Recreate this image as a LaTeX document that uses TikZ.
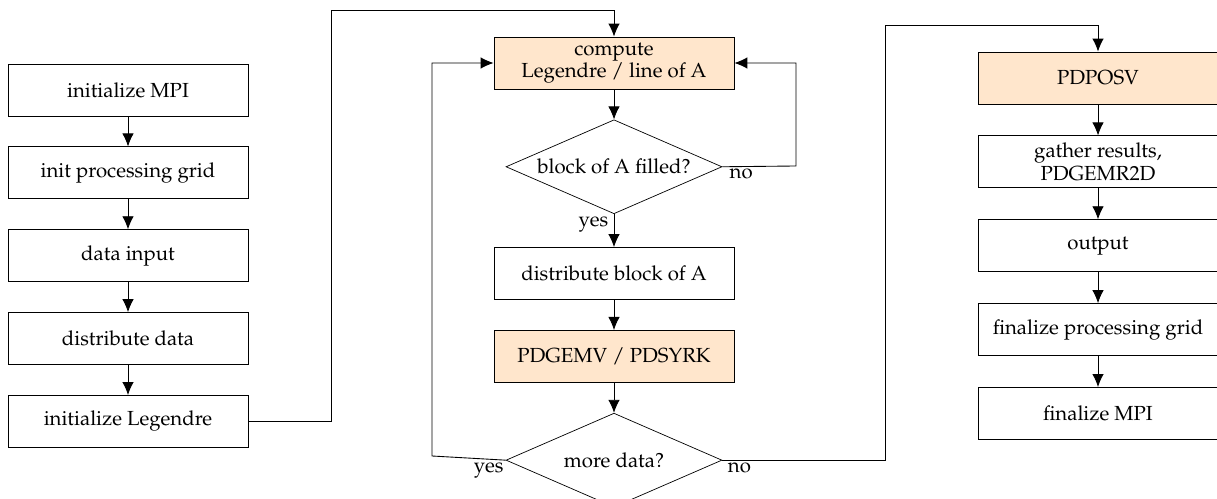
\documentclass[tikz,border=0pt]{standalone}
\usepackage[T1]{fontenc}
\usepackage{mathpazo}
\usetikzlibrary{positioning,shapes.geometric,arrows.meta}
\definecolor{calcfill}{HTML}{FFE6CC}

\begin{document}
\begin{tikzpicture}[
  x=0.02cm, y=-0.02cm,
  node distance=0.6cm,
  font=\fontsize{11.6}{12.8}\selectfont,
  box/.style={draw, line width=0.5pt, fill=white, minimum width=4.8cm,
              minimum height=1.04cm, align=center, inner sep=1pt},
  calc/.style={box, fill=calcfill},
  decision/.style={draw, diamond, aspect=2.3, inner sep=0pt,
                   minimum width=4.32cm, minimum height=1.88cm, align=center},
  lbl/.style={inner sep=1pt},
  arrow/.style={-{Latex[length=2.6mm, width=2.3mm]}, line width=0.5pt}
]
  \useasboundingbox (0,0) rectangle (1217,499);

  % setup column
  \node[box] (mpi) at (128,90) {initialize MPI};
  \node[box, below=of mpi]  (grid) {init processing grid};
  \node[box, below=of grid] (inp)  {data input};
  \node[box, below=of inp]  (dist) {distribute data};
  \node[box, below=of dist] (leg)  {initialize Legendre};

  % main loop
  \node[calc] (comp) at (614,63) {compute\\Legendre / line of A};
  \node[decision, below=of comp] (fill) {block of A filled?};
  \node[box, below=0.66cm of fill] (blk) {distribute block of A};
  \node[calc, below=of blk] (pdg) {PDGEMV / PDSYRK};
  \node[decision, below=of pdg] (more) {more data?};

  % solve and finish
  \node[calc] (posv) at (1098,78) {PDPOSV};
  \node[box, below=0.62cm of posv] (gath) {gather results,\\PDGEMR2D};
  \node[box, below=0.62cm of gath] (outp) {output};
  \node[box, below=0.62cm of outp] (fgrid) {finalize processing grid};
  \node[box, below=0.62cm of fgrid] (fmpi) {finalize MPI};

  % branch labels
  \node[lbl, anchor=north west] (nofill)  at ([xshift=3pt]fill.east)  {no};
  \node[lbl, anchor=north east] (yesfill) at ([xshift=-2pt]fill.south) {yes};
  \node[lbl, anchor=north east] (yesmore) at (more.west) {yes};
  \node[lbl, anchor=north west] (nomore)  at ([xshift=2pt]more.east) {no};

  \coordinate (up1)   at (331,10);
  \coordinate (back1) at (796,166);
  \coordinate (back2) at (432,456);
  \coordinate (up2)   at (885,25);

  \draw[arrow] (mpi)  -- (grid);
  \draw[arrow] (grid) -- (inp);
  \draw[arrow] (inp)  -- (dist);
  \draw[arrow] (dist) -- (leg);
  \draw[arrow] (leg.east) -| (up1) -| (comp.north);

  \draw[arrow] (comp) -- (fill);
  \draw[arrow] (fill.east) -- (back1) |- (comp.east);
  \draw[arrow] (fill) -- (blk);
  \draw[arrow] (blk)  -- (pdg);
  \draw[arrow] (pdg)  -- (more);
  \draw[arrow] (more.west) -- (back2) |- (comp.west);
  \draw[arrow] (more.east) -| (up2) -| (posv.north);

  \draw[arrow] (posv)  -- (gath);
  \draw[arrow] (gath)  -- (outp);
  \draw[arrow] (outp)  -- (fgrid);
  \draw[arrow] (fgrid) -- (fmpi);
\end{tikzpicture}
\end{document}
